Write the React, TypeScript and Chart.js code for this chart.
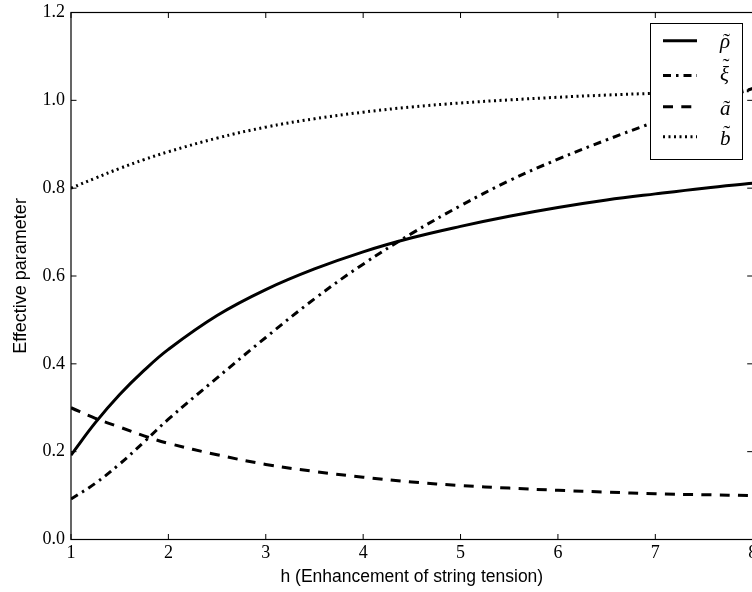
import React, { useEffect, useRef } from "react";
import { Chart, registerables } from "chart.js";

Chart.register(...registerables);

// ---- data ----
const hValues = [1, 1.25, 1.5, 1.75, 2, 2.5, 3, 3.5, 4, 4.5, 5, 5.5, 6, 6.5, 7, 7.5, 8];
const rhoValues = [0.192, 0.266, 0.33, 0.385, 0.433, 0.51, 0.569, 0.616, 0.655, 0.687, 0.713, 0.736, 0.756, 0.773, 0.787, 0.8, 0.811];
const xiValues = [0.092, 0.128, 0.172, 0.222, 0.274, 0.368, 0.46, 0.548, 0.627, 0.697, 0.76, 0.817, 0.866, 0.91, 0.951, 0.99, 1.027];
const aValues = [0.3, 0.276, 0.256, 0.236, 0.219, 0.193, 0.171, 0.155, 0.142, 0.131, 0.123, 0.117, 0.112, 0.108, 0.104, 0.102, 0.1];
const bValues = [0.8, 0.823, 0.845, 0.865, 0.883, 0.914, 0.939, 0.958, 0.973, 0.985, 0.994, 1.001, 1.007, 1.012, 1.016, 1.019, 1.022];

const xTicks = [1, 2, 3, 4, 5, 6, 7, 8];
const yTicks = [0, 0.2, 0.4, 0.6, 0.8, 1.0, 1.2];
// legend labels: base letter, drawn with a tilde accent above
const seriesLabels = ["\u03C1", "\u03BE", "a", "b"];

const xTitle = "h (Enhancement of string tension)";
const yTitle = "Effective parameter";

const CANVAS_W = 760;
const CANVAS_H = 592;

const toPoints = (vals: number[]) => hValues.map((h, i) => ({ x: h, y: vals[i] }));

const framePlugin = {
  id: "frameAndLegend",
  afterDatasetsDraw(chart: any) {
    const { ctx, chartArea, scales } = chart;
    const { left, right, top, bottom } = chartArea;
    const x = scales.x;
    const y = scales.y;
    ctx.save();
    // spines
    ctx.strokeStyle = "#000";
    ctx.lineWidth = 1.2;
    ctx.strokeRect(left, top, right - left, bottom - top);
    // inward ticks on all four sides
    const tl = 5.5;
    ctx.lineWidth = 1;
    ctx.beginPath();
    xTicks.forEach((v) => {
      const px = x.getPixelForValue(v);
      ctx.moveTo(px, bottom);
      ctx.lineTo(px, bottom - tl);
      ctx.moveTo(px, top);
      ctx.lineTo(px, top + tl);
    });
    yTicks.forEach((v) => {
      const py = y.getPixelForValue(v);
      ctx.moveTo(left, py);
      ctx.lineTo(left + tl, py);
      ctx.moveTo(right, py);
      ctx.lineTo(right - tl, py);
    });
    ctx.stroke();

    // legend box
    const bx = 650, by = 23, bw = 92, bh = 136;
    ctx.fillStyle = "#fff";
    ctx.fillRect(bx, by, bw, bh);
    ctx.strokeStyle = "#000";
    ctx.lineWidth = 1;
    ctx.strokeRect(bx + 0.5, by + 0.5, bw, bh);
    const rowY = [40.7, 75.5, 106.7, 136.7];
    const baseOff = [7, 5, 8, 8];
    const tildeRaise = [0, 8, 0, 5];
    chart.data.datasets.forEach((ds: any, i: number) => {
      const ry = rowY[i];
      ctx.beginPath();
      ctx.setLineDash(ds.borderDash || []);
      ctx.lineWidth = ds.borderWidth;
      ctx.strokeStyle = "#000";
      ctx.moveTo(663, ry);
      ctx.lineTo(697, ry);
      ctx.stroke();
      ctx.setLineDash([]);
      ctx.fillStyle = "#000";
      ctx.font = "italic 21px 'Liberation Serif'";
      ctx.textAlign = "left";
      ctx.textBaseline = "alphabetic";
      const tx = 720;
      const ty = ry + baseOff[i];
      ctx.fillText(ds.label, tx, ty);
      const w = ctx.measureText(ds.label).width;
      ctx.font = "21px 'Liberation Serif'";
      ctx.textAlign = "center";
      ctx.fillText("\u02DC", tx + w / 2 + 1.5, ty - tildeRaise[i]);
    });
    ctx.restore();
  },
};

export default function App() {
  const ref = useRef<HTMLCanvasElement | null>(null);

  useEffect(() => {
    if (!ref.current) return;
    const common = {
      borderColor: "#000",
      backgroundColor: "#000",
      pointRadius: 0,
      fill: false,
      tension: 0.4,
    };
    const chart = new Chart(ref.current, {
      type: "line",
      data: {
        datasets: [
          { ...common, label: seriesLabels[0], data: toPoints(rhoValues), borderWidth: 3, borderDash: [] },
          { ...common, label: seriesLabels[1], data: toPoints(xiValues), borderWidth: 3, borderDash: [8, 5, 2.5, 5] },
          { ...common, label: seriesLabels[2], data: toPoints(aValues), borderWidth: 3, borderDash: [10, 8.3] },
          { ...common, label: seriesLabels[3], data: toPoints(bValues), borderWidth: 3, borderDash: [2, 3.5] },
        ],
      },
      options: {
        animation: false,
        responsive: false,
        maintainAspectRatio: false,
        layout: { padding: { left: 0, top: 12.5, right: 7.3, bottom: 0 } },
        plugins: { legend: { display: false }, tooltip: { enabled: false } },
        scales: {
          x: {
            type: "linear",
            min: 1,
            max: 8,
            grid: { display: false, drawTicks: false },
            border: { display: false },
            ticks: {
              stepSize: 1,
              autoSkip: false,
              maxRotation: 0,
              color: "#000",
              padding: 3,
              font: { family: "'Liberation Serif'", size: 18 },
              callback: (v: any) => String(v),
            },
            title: {
              display: true,
              text: xTitle,
              color: "#000",
              font: { family: "'Liberation Sans'", size: 17.5 },
              padding: { top: 0, bottom: 4 },
            },
            afterFit: (s: any) => {
              s.height = 52.5;
              s.paddingLeft = 0;
              s.paddingRight = 0;
            },
          },
          y: {
            type: "linear",
            min: 0,
            max: 1.2,
            grid: { display: false, drawTicks: false },
            border: { display: false },
            ticks: {
              stepSize: 0.2,
              color: "#000",
              padding: 6,
              font: { family: "'Liberation Serif'", size: 18 },
              callback: (v: any) => Number(v).toFixed(1),
            },
            title: {
              display: true,
              text: yTitle,
              color: "#000",
              font: { family: "'Liberation Sans'", size: 18 },
              padding: { top: 10, bottom: 0 },
            },
            afterFit: (s: any) => {
              s.width = 71;
              s.paddingTop = 0;
              s.paddingBottom = 0;
            },
          },
        },
      },
      plugins: [framePlugin],
    });
    return () => chart.destroy();
  }, []);

  return (
    <div
      style={{
        position: "fixed",
        left: 0,
        top: 0,
        width: 752,
        height: 592,
        overflow: "hidden",
        background: "#fff",
      }}
    >
      <canvas ref={ref} width={CANVAS_W} height={CANVAS_H} style={{ display: "block" }} />
    </div>
  );
}
